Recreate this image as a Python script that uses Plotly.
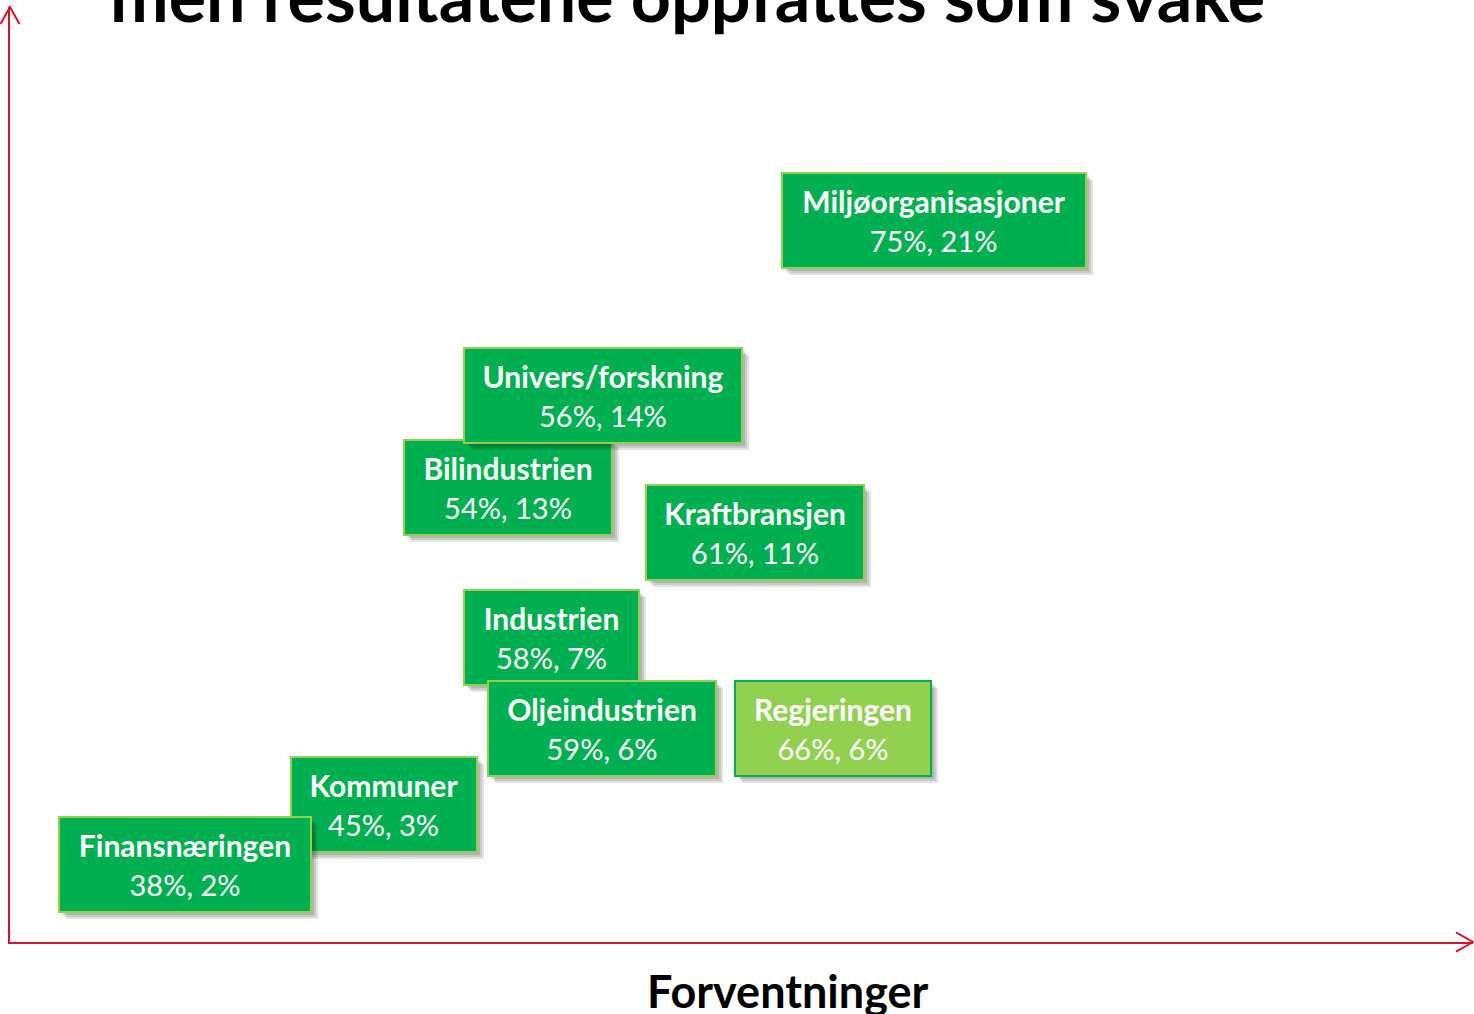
import plotly.graph_objects as go

# ---- data: expectations (x) vs. perceived results (y), in percent ----
names = ["Miljøorganisasjoner", "Bilindustrien", "Univers/forskning", "Kraftbransjen",
         "Industrien", "Oljeindustrien", "Regjeringen", "Kommuner", "Finansnæringen"]
forventninger = [75, 54, 56, 61, 58, 59, 66, 45, 38]
resultater = [21, 13, 14, 11, 7, 6, 6, 3, 2]
highlight = "Regjeringen"

# ---- label placement (pixel nudges so the boxes don't pile up) ----
label_dx = [-35, -27, 27, 75, -66, -36, 50, 35, -19]
label_dy = [-22, -16, 41, 7, 38, -19, -19, 8, -18]
box_w = [306, 210, 280, 220, 177, 230, 198, 188, 254]
BOX_H = 97

GREEN = "#00B050"
LIGHT = "#92D050"
RED = "#D2142F"
FONT = "Lato"

fig = go.Figure()
fig.add_scatter(x=forventninger, y=resultater, mode="markers", text=names,
                marker=dict(size=1, opacity=0), showlegend=False,
                hovertemplate="%{text}<br>%{x}%, %{y}%<extra></extra>")

annotations = []
for name, fx, ry, dx, dy, w in zip(names, forventninger, resultater, label_dx, label_dy, box_w):
    base = dict(x=fx, y=ry, xref="x", yref="y", xanchor="center", yanchor="middle",
                showarrow=False, width=w - 4, height=BOX_H - 4, borderwidth=2, borderpad=0)
    # soft drop shadow
    for off in (3, 5, 7):
        annotations.append(dict(base, text=" ", bgcolor="rgba(0,0,0,0.11)",
                                bordercolor="rgba(0,0,0,0)",
                                xshift=dx + off, yshift=dy - off))
    hl = name == highlight
    annotations.append(dict(base, text=f"<b>{name}</b><br><span style='font-size:29px'>{fx}%, {ry}%</span>",
                            font=dict(family=FONT, size=30, color="white"),
                            bgcolor=LIGHT if hl else GREEN,
                            bordercolor=GREEN if hl else LIGHT,
                            xshift=dx, yshift=dy, align="center", valign="middle"))

# title (runs off the top of the slide) and axis title
annotations.append(dict(text="<b>men resultatene oppfattes som svake</b>", x=0.4634, y=0.9655,
                        xref="paper", yref="paper", xanchor="center", yanchor="bottom",
                        showarrow=False, font=dict(family=FONT, size=70, color="black")))
annotations.append(dict(text="<b>Forventninger</b>", x=0.5318, y=-0.0524,
                        xref="paper", yref="paper", xanchor="center", yanchor="middle",
                        showarrow=False, font=dict(family=FONT, size=45, color="black")))

# open arrowheads at the ends of the axes
shapes = [
    dict(type="path", xref="paper", yref="paper", path="M 0.9884,0.0102 L 1,0 L 0.9884,-0.0102",
         line=dict(color=RED, width=2)),
    dict(type="path", xref="paper", yref="paper", path="M -0.0065,0.9818 L 0,1 L 0.0065,0.9818",
         line=dict(color=RED, width=2)),
]

axis = dict(showgrid=False, zeroline=False, showticklabels=False, ticks="",
            showline=True, linecolor=RED, linewidth=2, fixedrange=True)
fig.update_xaxes(range=[28.6, 99.4], **axis)
fig.update_yaxes(range=[-0.8, 26.6], **axis)

fig.update_layout(width=1474, height=1014, margin=dict(l=10, r=1, t=7, b=72),
                  paper_bgcolor="white", plot_bgcolor="white",
                  annotations=annotations, shapes=shapes, showlegend=False)

# drop the default 8px page margin so the figure fills the window exactly
fig.write_html("out.html", config={"displayModeBar": False},
               post_script="document.body.style.margin = '0px';")
